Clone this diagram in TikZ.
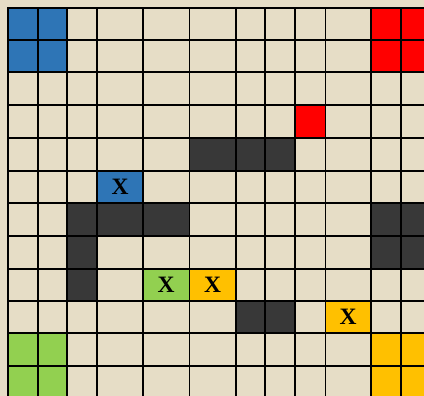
\documentclass[tikz,border=0pt]{standalone}
\usepackage{fontspec}
\setmainfont{Liberation Serif}
\usetikzlibrary{calc}

\definecolor{paper}{RGB}{230,221,198}
\definecolor{tileblue}{RGB}{46,117,182}
\definecolor{tilered}{RGB}{255,0,0}
\definecolor{tilegreen}{RGB}{146,208,80}
\definecolor{tileorange}{RGB}{255,192,0}
\definecolor{wall}{RGB}{56,56,56}

\begin{document}
\begin{tikzpicture}[x=1pt, y=-1pt, line cap=rect,
    gridline/.style={line width=1.6pt, black},
    xtag/.style={font=\fontsize{23.5}{23.5}\selectfont\bfseries, inner sep=0pt}]
  \useasboundingbox (0,0) rectangle (424,396);
  \clip (0,0) rectangle (424,396);
  \fill[paper] (0,0) rectangle (424,396);
  % column and row lines
  \foreach \c/\x in {0/8, 1/37.7, 2/66.7, 3/97, 4/143, 5/189.3, 6/235.7,
                     7/265, 8/294.7, 9/325.3, 10/371, 11/400.7, 12/430}
    \coordinate (c\c) at (\x,0);
  \foreach \r/\y in {0/8, 1/40, 2/72, 3/105, 4/138, 5/171, 6/203,
                     7/236, 8/269, 9/301, 10/333, 11/366, 12/399}
    \coordinate (r\r) at (0,\y);
  % corner homes
  \fill[tileblue] (c0 |- r0) rectangle (c2 |- r2);
  \fill[tilered] (c10 |- r0) rectangle (c12 |- r2);
  \fill[tilegreen] (c0 |- r10) rectangle (c2 |- r12);
  \fill[tileorange] (c10 |- r10) rectangle (c12 |- r12);
  \fill[tilered] (c8 |- r3) rectangle (c9 |- r4);
  % walls
  \fill[wall] (c5 |- r4) rectangle (c8 |- r5);
  \fill[wall] (c2 |- r6) rectangle (c5 |- r7);
  \fill[wall] (c2 |- r7) rectangle (c3 |- r9);
  \fill[wall] (c10 |- r6) rectangle (c12 |- r8);
  \fill[wall] (c6 |- r9) rectangle (c8 |- r10);
  % marked squares
  \fill[tileblue] (c3 |- r5) rectangle (c4 |- r6);
  \fill[tilegreen] (c4 |- r8) rectangle (c5 |- r9);
  \fill[tileorange] (c5 |- r8) rectangle (c6 |- r9);
  \fill[tileorange] (c9 |- r9) rectangle (c10 |- r10);
  \node[xtag] (xblue) at ($(c3 |- r5)!0.5!(c4 |- r6)$) {X};
  \node[xtag] (xgreen) at ($(c4 |- r8)!0.5!(c5 |- r9)$) {X};
  \node[xtag] (xorange) at ($(c5 |- r8)!0.5!(c6 |- r9)$) {X};
  \node[xtag] (xorange2) at ($(c9 |- r9)!0.5!(c10 |- r10)$) {X};
  % grid
  \foreach \c in {0,...,12}
    \draw[gridline] (c\c |- r0) -- (c\c |- r12);
  \foreach \r in {0,...,12}
    \draw[gridline] (c0 |- r\r) -- (c12 |- r\r);
\end{tikzpicture}
\end{document}
